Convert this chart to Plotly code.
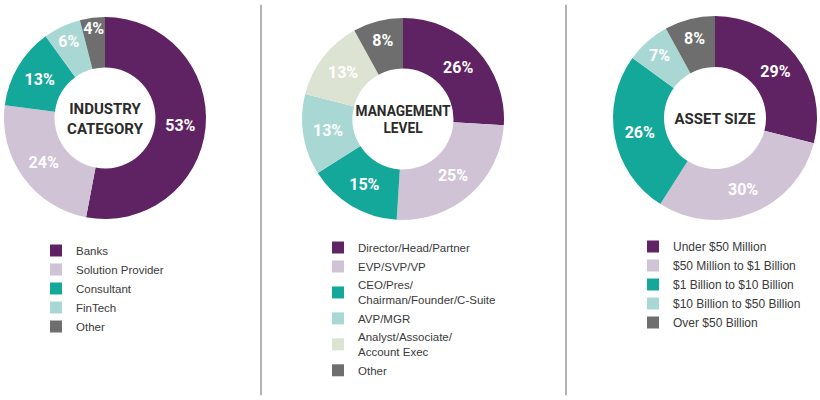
import plotly.graph_objects as go

# industry category
industry_labels = ["Banks", "Solution Provider", "Consultant", "FinTech", "Other"]
industry_values = [53, 24, 13, 6, 4]

# management level ("Other " keeps its own legend entry; pie legends merge equal labels)
mgmt_labels = ["Director/Head/Partner", "EVP/SVP/VP",
               "CEO/Pres/<br>Chairman/Founder/C-Suite", "AVP/MGR",
               "Analyst/Associate/<br>Account Exec", "Other "]
mgmt_values = [26, 25, 15, 13, 13, 8]

# asset size
asset_labels = ["Under $50 Million", "$50 Million to $1 Billion",
                "$1 Billion to $10 Billion", "$10 Billion to $50 Billion",
                "Over $50 Billion"]
asset_values = [29, 30, 26, 7, 8]

purple = "#5f2262"
lilac = "#d0c3d6"
teal = "#14a89a"
mint = "#a9d8d4"
sage = "#dde3d2"
gray = "#6d6e6d"

W, H = 820, 400


def dom(cx, cy, r):
    return dict(x=[(cx - r) / W, (cx + r) / W],
                y=[1 - (cy + r) / H, 1 - (cy - r) / H])


def donut(labels, values, colors, title, d, legend):
    return go.Pie(
        labels=labels, values=values, sort=False, direction="clockwise",
        rotation=0, hole=0.5, domain=d, legend=legend,
        marker=dict(colors=colors, line=dict(width=0)),
        texttemplate="%{value}%", textposition="inside",
        insidetextorientation="horizontal",
        textfont=dict(family="Roboto", size=16, color="white", weight="bold"),
        title=dict(text=title, position="middle center",
                   font=dict(family="Roboto", size=15, color="#2b2b2b", weight="bold")),
        hoverinfo="label+percent",
    )


fig = go.Figure()
fig.add_trace(donut(industry_labels, industry_values,
                    [purple, lilac, teal, mint, gray],
                    "INDUSTRY<br>CATEGORY", dom(105, 118, 101), "legend"))
fig.add_trace(donut(mgmt_labels, mgmt_values,
                    [purple, lilac, teal, mint, sage, gray],
                    "MANAGEMENT<br>LEVEL", dom(403, 119, 101), "legend2"))
fig.add_trace(donut(asset_labels, asset_values,
                    [purple, lilac, teal, mint, gray],
                    "ASSET SIZE", dom(715, 118, 102), "legend3"))

leg_font = dict(family="Liberation Sans", size=11.5, color="#3a3a3a")
fig.update_layout(
    width=W, height=H,
    margin=dict(l=0, r=0, t=0, b=0),
    paper_bgcolor="white", plot_bgcolor="white",
    uniformtext=dict(minsize=16, mode="show"),
    legend=dict(x=36 / W, y=1 - 236 / H, xanchor="left", yanchor="top",
                font=leg_font, bgcolor="rgba(0,0,0,0)", maxheight=1),
    legend2=dict(x=318 / W, y=1 - 233 / H, xanchor="left", yanchor="top",
                 font=leg_font, bgcolor="rgba(0,0,0,0)", maxheight=1),
    legend3=dict(x=633 / W, y=1 - 232 / H, xanchor="left", yanchor="top",
                 font=dict(family="Liberation Sans", size=12, color="#3a3a3a"),
                 bgcolor="rgba(0,0,0,0)", maxheight=1),
    shapes=[
        dict(type="line", xref="paper", yref="paper", x0=261 / W, x1=261 / W,
             y0=0.012, y1=0.988, line=dict(color="#9a9a9a", width=1.5)),
        dict(type="line", xref="paper", yref="paper", x0=566 / W, x1=566 / W,
             y0=0.012, y1=0.988, line=dict(color="#9a9a9a", width=1.5)),
    ],
)

# page body has a default 8px margin; drop it so the figure sits at 0,0
fig.write_html("out.html", config={"displayModeBar": False},
               post_script="document.body.style.margin='0';")
